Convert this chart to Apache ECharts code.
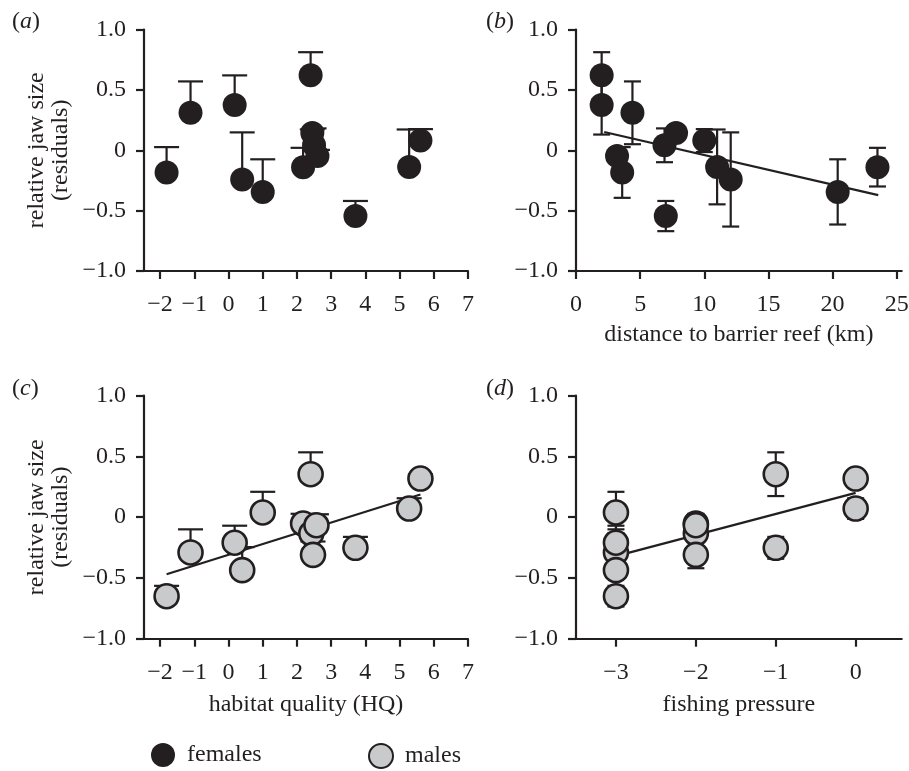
<!DOCTYPE html>
<html>
<head>
<meta charset="utf-8">
<script src="https://cdn.jsdelivr.net/npm/echarts@6/dist/echarts.min.js"></script>
<style>
html,body{margin:0;padding:0;background:#fff;}
#chart{width:909px;height:771px;}
</style>
</head>
<body>
<div id="chart"></div>
<script>
// ---------- data ----------
// females (panels a, b)
const femalesHQ   = [-1.81, -1.11, 0.18, 0.40, 1.00, 2.18, 2.40, 2.45, 2.50, 2.60, 3.71, 5.28, 5.61];
const femalesDist = [3.6, 4.4, 2.0, 12.06, 20.4, 23.5, 2.0, 7.8, 6.9, 3.2, 7.0, 11.0, 10.0];
const femalesY    = [-0.184, 0.31, 0.375, -0.242, -0.345, -0.14, 0.622, 0.143, 0.041, -0.047, -0.545, -0.138, 0.08];
const femalesErr  = [0.21, 0.26, 0.245, 0.39, 0.27, 0.16, 0.19, 0.03, 0.14, 0.05, 0.125, 0.31, 0.095];
// males (panels c, d)
const malesHQ      = [-1.81, -1.11, 0.18, 0.40, 1.00, 2.18, 2.40, 2.42, 2.47, 2.57, 3.71, 5.28, 5.61];
const malesFishing = [-3, -3, -3, -3, -3, -2, -1, -2, -2, -2, -1, 0, 0];
const malesY       = [-0.65, -0.29, -0.21, -0.436, 0.039, -0.052, 0.354, -0.134, -0.31, -0.066, -0.252, 0.071, 0.318];
const malesErr     = [0.085, 0.19, 0.14, 0.19, 0.17, 0.08, 0.18, 0.05, 0.11, 0.09, 0.09, 0.085, 0.035];
// regression lines
const fitDist    = [[2.2, 0.151], [23.56, -0.372]];
const fitHQ      = [[-1.81, -0.469], [5.61, 0.187]];
const fitFishing = [[-3, -0.32], [0, 0.20]];
// tick labels
const hqTicks      = [-2, -1, 0, 1, 2, 3, 4, 5, 6, 7];
const distTicks    = [0, 5, 10, 15, 20, 25];
const fishingTicks = [-3, -2, -1, 0];
const panelLabels  = ['a', 'b', 'c', 'd'];
const yName = 'relative jaw size\n(residuals)';

// ---------- styling ----------
const INK = '#231f20';
const MALE_FILL = '#c9cacc';
const FONT = 'Liberation Serif';
const FS = 24;

function fmtX(v) {
  if (Math.abs(v) < 1e-9) return '0';
  return (v < 0 ? '\u2212' : '') + Math.abs(v);
}
function fmtY(v) {
  if (Math.abs(v) < 1e-9) return '0';
  return (v < 0 ? '\u2212' : '') + Math.abs(v).toFixed(1);
}

const grids = [
  {left: 144, top: 29.5, width: 324, height: 241.5},
  {left: 576, top: 29.5, width: 325.7, height: 241.5},
  {left: 144, top: 395.7, width: 324, height: 243},
  {left: 576, top: 395.7, width: 325.7, height: 243}
].map(g => Object.assign({containLabel: false, outerBoundsMode: 'none'}, g));

function xAxis(gi, min, max, ticks, name, nameGap) {
  return {
    type: 'value', gridIndex: gi, min: min, max: max,
    splitLine: {show: false},
    axisLine: {show: true, onZero: false, lineStyle: {color: INK, width: 2.2}},
    axisTick: {show: true, length: 8, inside: false, customValues: ticks, lineStyle: {color: INK, width: 2.2}},
    axisLabel: {show: true, customValues: ticks, margin: 22, formatter: fmtX,
      fontFamily: FONT, fontSize: FS, color: INK},
    name: name || '', nameLocation: 'middle', nameGap: nameGap || 0,
    nameTextStyle: {fontFamily: FONT, fontSize: FS, color: INK}
  };
}
function yAxis(gi, withName) {
  return {
    type: 'value', gridIndex: gi, min: -1, max: 1, interval: 0.5,
    splitLine: {show: false},
    axisLine: {show: true, onZero: false, lineStyle: {color: INK, width: 2.2}},
    axisTick: {show: true, length: 8, lineStyle: {color: INK, width: 2.2}},
    axisLabel: {show: true, margin: 18, formatter: fmtY,
      fontFamily: FONT, fontSize: FS, color: INK},
    name: withName ? yName : '', nameLocation: 'middle', nameGap: 71, nameRotate: 90,
    nameTextStyle: {fontFamily: FONT, fontSize: FS, color: INK, lineHeight: 24, align: 'center'}
  };
}

function errRender(capHalf) {
  return function (params, api) {
    const x = api.value(0), lo = api.value(1), hi = api.value(2), both = api.value(3);
    const a = api.coord([x, lo]), b = api.coord([x, hi]);
    const st = {stroke: INK, lineWidth: 2.2, fill: null};
    const ch = [
      {type: 'line', shape: {x1: a[0], y1: a[1], x2: b[0], y2: b[1]}, style: st},
      {type: 'line', shape: {x1: b[0] - capHalf, y1: b[1], x2: b[0] + capHalf, y2: b[1]}, style: st}
    ];
    if (both) ch.push({type: 'line', shape: {x1: a[0] - capHalf, y1: a[1], x2: a[0] + capHalf, y2: a[1]}, style: st});
    return {type: 'group', children: ch};
  };
}
function errData(xs, ys, es, both) {
  return xs.map((x, i) => [x, both ? ys[i] - es[i] : ys[i], ys[i] + es[i], both ? 1 : 0]);
}
function pts(xs, ys) { return xs.map((x, i) => [x, ys[i]]); }

function errSeries(gi, xs, ys, es, both, capHalf) {
  return {type: 'custom', xAxisIndex: gi, yAxisIndex: gi, renderItem: errRender(capHalf),
    data: errData(xs, ys, es, both), encode: {x: 0, y: [1, 2]}, z: 1, silent: true};
}
function fitSeries(gi, d) {
  return {type: 'line', xAxisIndex: gi, yAxisIndex: gi, data: d, symbol: 'none',
    lineStyle: {color: INK, width: 2.2}, z: 2, silent: true};
}
const femaleStyle = {color: INK, opacity: 1};
const maleStyle = {color: MALE_FILL, borderColor: INK, borderWidth: 2.6, opacity: 1};
function scat(gi, name, xs, ys, style) {
  return {type: 'scatter', name: name, xAxisIndex: gi, yAxisIndex: gi, data: pts(xs, ys),
    symbol: 'circle', symbolSize: 24, itemStyle: style, z: 3};
}

const titles = panelLabels.map((p, i) => ({
  text: '{p|(}{i|' + p + '}{p|)}',
  left: i % 2 === 0 ? 12 : 486, top: i < 2 ? 10 : 377,
  padding: 0,
  textStyle: {fontWeight: 'normal', rich: {
    p: {fontFamily: FONT, fontSize: FS, color: INK, fontWeight: 'normal'},
    i: {fontFamily: FONT, fontSize: FS, color: INK, fontStyle: 'italic', fontWeight: 'normal'}
  }}
}));

const option = {
  animation: false,
  backgroundColor: '#ffffff',
  title: titles,
  grid: grids,
  legend: [
    {data: ['females'], left: 151, top: 743, itemWidth: 24, itemHeight: 24, icon: 'circle', padding: 0,
      textStyle: {fontFamily: FONT, fontSize: FS, color: INK, padding: [0, 0, 0, 7]}},
    {data: ['males'], left: 368, top: 743, itemWidth: 24, itemHeight: 24, icon: 'circle', padding: 0,
      textStyle: {fontFamily: FONT, fontSize: FS, color: INK, padding: [0, 0, 0, 7]}}
  ],
  xAxis: [
    xAxis(0, -2.47, 7, hqTicks),
    xAxis(1, 0, 25.39, distTicks, 'distance to barrier reef (km)', 52),
    xAxis(2, -2.47, 7, hqTicks, 'habitat quality (HQ)', 54),
    xAxis(3, -3.5, 0.576, fishingTicks, 'fishing pressure', 54)
  ],
  yAxis: [yAxis(0, true), yAxis(1, false), yAxis(2, true), yAxis(3, false)],
  series: [
    errSeries(0, femalesHQ, femalesY, femalesErr, false, 12.5),
    scat(0, 'females', femalesHQ, femalesY, femaleStyle),
    errSeries(1, femalesDist, femalesY, femalesErr, true, 8.5),
    fitSeries(1, fitDist),
    scat(1, 'females', femalesDist, femalesY, femaleStyle),
    errSeries(2, malesHQ, malesY, malesErr, false, 12.5),
    fitSeries(2, fitHQ),
    scat(2, 'males', malesHQ, malesY, maleStyle),
    errSeries(3, malesFishing, malesY, malesErr, true, 8.5),
    fitSeries(3, fitFishing),
    scat(3, 'males', malesFishing, malesY, maleStyle)
  ]
};

const chart = echarts.init(document.getElementById('chart'), null, {renderer: 'canvas'});
chart.setOption(option);
</script>
</body>
</html>
